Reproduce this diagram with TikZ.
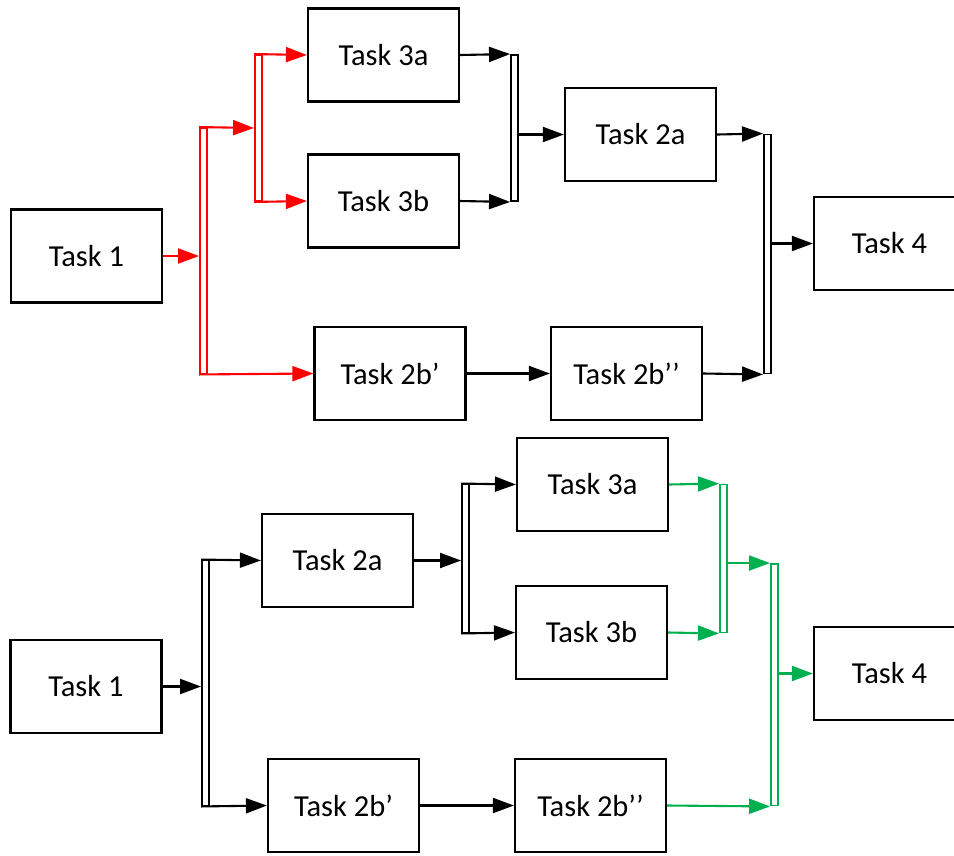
\documentclass[tikz,border=0pt]{standalone}
\usepackage{fontspec}
\setmainfont{Carlito}
\usetikzlibrary{arrows.meta}
\definecolor{flowred}{RGB}{255,0,0}
\definecolor{flowgreen}{RGB}{0,176,80}
\begin{document}
\begin{tikzpicture}[x=1pt,y=-1pt,
  task/.style={draw=black, line width=2.2pt, minimum width=151pt, minimum height=93pt,
    inner sep=0pt, font=\fontsize{30.5}{35}\selectfont},
  bar/.style={draw, fill=white, line width=1.9pt, minimum width=7pt, inner sep=0pt},
  arr/.style={line width=2.1pt, -{Triangle[length=21pt,width=15pt]}}]
\useasboundingbox (0,0) rectangle (954,855);

% ---- upper plan ----
\node[task] (t1)    at (86.5,256)   {Task 1};
\node[task] (t3a)   at (383.5,55)   {Task 3a};
\node[task] (t3b)   at (383.5,201)  {Task 3b};
\node[task] (t2bp)  at (390,373.5)  {Task 2b’};
\node[task] (t2a)   at (640.5,134.5){Task 2a};
\node[task] (t2bpp) at (626.5,373.5){Task 2b’’};
\node[task] (t4)    at (889.5,243.5){Task 4};

\node[bar, draw=flowred, minimum height=245.5pt] (b1) at (203.5,250.75) {};
\node[bar, draw=flowred, minimum height=146pt]   (b2) at (258.5,128) {};
\node[bar, minimum height=146pt] (m1) at (514.5,128) {};
\node[bar, minimum height=239pt] (m2) at (767.5,254) {};

\begin{scope}[flowred]
  \draw[arr] (t1.east) -- (t1.east -| b1.west);
  \draw[arr] (b1.north west) -- (b2.west);
  \draw[arr] (b1.south west) -- (t2bp.west);
  \draw[arr] (b2.north west) -- (t3a.west);
  \draw[arr] (b2.south west) -- (t3b.west);
\end{scope}
\draw[arr] (t3a.east) -- (m1.north west);
\draw[arr] (t3b.east) -- (m1.south west);
\draw[arr] (m1.east |- t2a.west) -- (t2a.west);
\draw[arr] (t2bp.east) -- (t2bpp.west);
\draw[arr] (t2a.east) -- (m2.north west);
\draw[arr] (t2bpp.east) -- (m2.south west);
\draw[arr] (m2.east |- t4.west) -- (t4.west);

% ---- lower plan ----
\node[task] (u1)    at (86,686.5)    {Task 1};
\node[task] (u2a)   at (337.5,560.5) {Task 2a};
\node[task] (u3a)   at (592.5,484.5) {Task 3a};
\node[task] (u3b)   at (591.5,632.5) {Task 3b};
\node[task] (u2bp)  at (343.5,805.5) {Task 2b’};
\node[task] (u2bpp) at (590.5,805.5) {Task 2b’’};
\node[task] (u4)    at (889.5,673.5) {Task 4};

\node[bar, minimum height=245pt] (c1) at (205.5,683) {};
\node[bar, minimum height=148pt] (c2) at (465.5,558.5) {};
\node[bar, draw=flowgreen, minimum height=148pt]   (g1) at (723.5,558.5) {};
\node[bar, draw=flowgreen, minimum height=241.5pt] (g2) at (774.5,684.75) {};

\draw[arr] (u1.east) -- (u1.east -| c1.west);
\draw[arr] (c1.north west) -- (u2a.west);
\draw[arr] (c1.south west) -- (u2bp.west);
\draw[arr] (u2a.east) -- (u2a.east -| c2.west);
\draw[arr] (c2.north west) -- (u3a.west);
\draw[arr] (c2.south west) -- (u3b.west);
\draw[arr] (u2bp.east) -- (u2bpp.west);
\begin{scope}[flowgreen]
  \draw[arr] (u3a.east) -- (g1.north west);
  \draw[arr] (u3b.east) -- (g1.south west);
  \draw[arr] (g1.east |- g2.north) -- (g2.north west);
  \draw[arr] (u2bpp.east) -- (g2.south west);
  \draw[arr] (g2.east |- u4.west) -- (u4.west);
\end{scope}
\end{tikzpicture}
\end{document}
